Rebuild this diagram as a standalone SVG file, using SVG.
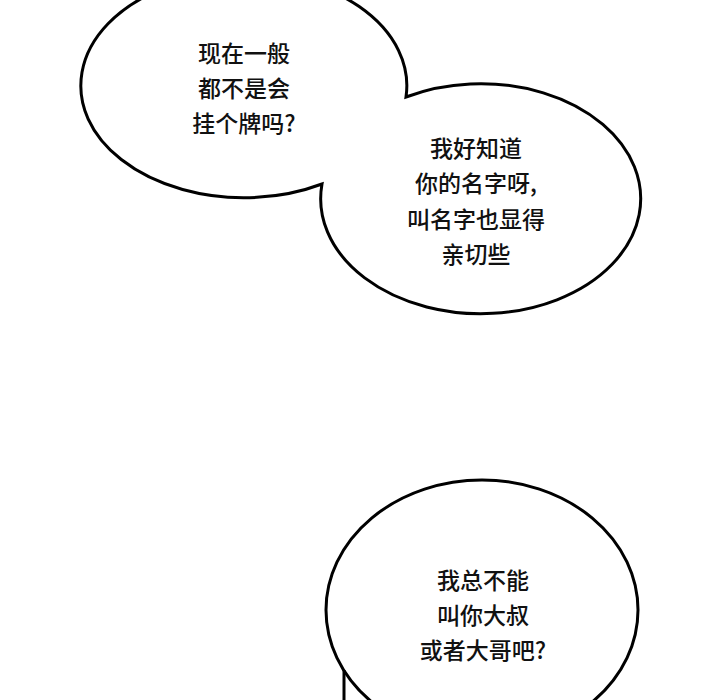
<svg xmlns="http://www.w3.org/2000/svg" width="720" height="700" viewBox="0 0 720 700">
<style>
.bub{fill:#fff;stroke:#000;stroke-width:3;stroke-linejoin:miter}
.ln{fill:none;stroke:#000;stroke-width:3}
.t{font-family:"Noto Sans CJK SC","Noto Sans",sans-serif;font-size:23px;font-weight:500;fill:#111;text-anchor:middle}
</style>
<rect width="720" height="700" fill="#fff"/>
<g id="bubbles-1-2">
<path class="bub" d="M322,184 A163,112 0 1 1 406,97 A160,115 0 1 1 322,184 Z"/>
</g>
<g id="bubble-1">
<text class="t" x="244" y="62">现在一般</text>
<text class="t" x="244" y="97">都不是会</text>
<text class="t" x="244" y="132">挂个牌吗?</text>
</g>
<g id="bubble-2">
<text class="t" x="476" y="157">我好知道</text>
<text class="t" x="476" y="192">你的名字呀,</text>
<text class="t" x="476" y="228">叫名字也显得</text>
<text class="t" x="476" y="263">亲切些</text>
</g>
<g id="bubble-3">
<ellipse class="bub" cx="482" cy="610" rx="156" ry="130"/>
<text class="t" x="483" y="589">我总不能</text>
<text class="t" x="483" y="624">叫你大叔</text>
<text class="t" x="483" y="659">或者大哥吧?</text>
</g>
<g id="connectors">
<line class="ln" x1="344" y1="670" x2="344" y2="702"/>
</g>
</svg>
